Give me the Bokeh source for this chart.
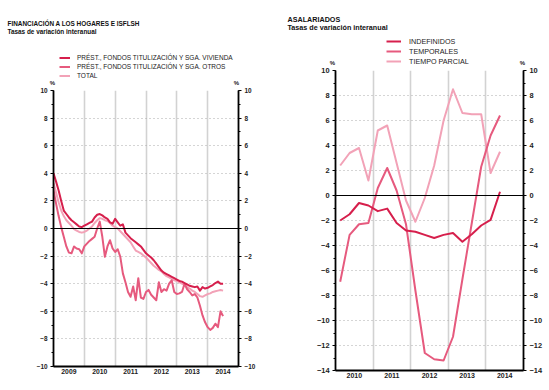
from bokeh.plotting import figure
from bokeh.layouts import row, column
from bokeh.models import Range1d, FixedTicker, LinearAxis, Span, Label, Legend, LegendItem
from bokeh.embed import file_html
from bokeh.resources import INLINE

FONT = "Liberation Sans"
DARK = "#d61f4c"
MID = "#e65a7e"
LIGHT = "#f2a2b7"
NAN = float("nan")

# ---------------- left chart data (monthly, Jan 2009 .. Jul 2014) ----------------
fin_title = "FINANCIACIÓN A LOS HOGARES E ISFLSH"
fin_subtitle = "Tasas de variación interanual"
fin_years = ["2009", "2010", "2011", "2012", "2013", "2014"]
fin_months = [f"{2009 + i // 12}-{i % 12 + 1:02d}" for i in range(67)]
fin_names = ["PRÉST., FONDOS TITULIZACIÓN Y SGA. VIVIENDA",
             "PRÉST., FONDOS TITULIZACIÓN Y SGA. OTROS",
             "TOTAL"]
fin_vivienda = [4.0, 3.4, 2.75, 2.0, 1.3, 1.05, 0.8, 0.6, 0.45, 0.3, 0.15, 0.1,
                0.2, 0.3, 0.4, 0.5, 0.8, 1.0, 1.05, 0.95, 0.8, 0.7, 0.45, 0.35,
                0.7, 0.45, 0.2, 0.3, -0.3, -0.5, -0.7, -0.85, -1.0, -1.15, -1.3, -1.55,
                -1.8, -1.95, -2.1, -2.3, -2.55, -2.8, -3.05, -3.2, -3.3, -3.4, -3.5, -3.6,
                -3.7, -3.8, -3.85, -3.95, -4.05, -4.15, -4.2, -4.25, -4.2, -4.5, -4.25, -4.35,
                -4.3, -4.2, -4.1, -3.95, -3.85, -4.0, -4.0]
fin_otros = [2.75, 1.8, 0.9, 0.1, -0.6, -1.3, -1.75, -1.8, -1.3, -1.45, -1.5, -1.8,
             -1.3, -1.1, -0.9, -0.75, -0.6, 0.0, 0.5, -0.6, -2.05, -1.3, -0.85, -1.45,
             -1.7, -1.5, -2.05, -3.25, -3.9, -4.6, -4.95, -4.2, -5.2, -3.6, -5.0, -5.1,
             -4.6, -4.45, -4.8, -5.0, -5.2, -3.9, -4.6, -4.4, -4.5, -4.0, -3.75, -4.6,
             -4.75, -4.7, -4.6, -4.0, -4.4, -4.6, -4.85, -4.75, -5.0, -5.6, -6.3, -6.8,
             -7.15, -7.35, -7.2, -6.9, -7.15, -6.0, -6.35]
fin_total = [3.3, 2.6, 1.9, 1.3, 0.9, 0.6, 0.4, 0.2, -0.05, -0.15, -0.25, -0.3,
             -0.25, -0.15, 0.0, 0.15, 0.4, 0.6, 0.75, 0.7, 0.6, 0.55, 0.4, 0.2,
             0.1, 0.0, -0.2, -0.4, -0.6, -0.8, -1.0, -1.3, -1.6, -1.7, -1.8, -1.95,
             -2.1, -2.3, -2.5, -2.7, -2.85, -3.0, -3.1, -3.3, -3.45, -3.55, -3.65, -3.75,
             -3.8, -3.9, -4.0, -4.1, -4.25, -4.35, -4.5, -4.6, -4.75, -4.9, -4.95, -4.85,
             -4.75, -4.7, -4.6, -4.55, -4.5, -4.45, -4.5]
fin_yticks = [10, 8, 6, 4, 2, 0, -2, -4, -6, -8, -10]

# ---------------- right chart data (quarterly, 2010 I .. 2014 II) ----------------
asal_title = "ASALARIADOS"
asal_subtitle = "Tasas de variación interanual"
asal_years = ["2010", "2011", "2012", "2013", "2014"]
asal_quarters = [f"{2010 + i // 4}-{i % 4 + 1}" for i in range(18)]
asal_names = ["INDEFINIDOS", "TEMPORALES", "TIEMPO PARCIAL"]
asal_indef = [-2.0, -1.5, -0.6, -0.8, -1.25, -1.05, -2.2, -2.8, -2.9, -3.15, -3.4, -3.15,
              -3.0, -3.7, -3.1, -2.4, -1.95, 0.3]
asal_temp = [-6.9, -3.15, -2.3, -2.2, 0.6, 2.2, 0.4, -2.3, -7.6, -12.6, -13.1, -13.2,
             -11.3, -6.7, -2.2, 2.3, 4.8, 6.4]
asal_parcial = [2.4, 3.4, 3.8, 1.2, 5.2, 5.6, 2.6, -0.4, -2.1, -0.2, 2.4, 6.0,
                8.5, 6.6, 6.5, 6.5, 1.8, 3.5]
asal_yticks = [10, 8, 6, 4, 2, 0, -2, -4, -6, -8, -10, -12, -14]


def month_pos(s):
    y, m = s.split("-")
    return int(y) + (int(m) - 1) / 12


def quarter_pos(s):
    y, q = s.split("-")
    return int(y) + (int(q) - 0.5) / 4


def no_align(p):
    try:
        p.frame_align = False
    except Exception:
        pass


def make_fig(width, height, left, right, top, bottom, years, ymin, ymax, yticks, ylab_px, xlab_px):
    x0 = int(years[0])
    x1 = int(years[-1]) + 1
    p = figure(width=width, height=height, x_range=Range1d(x0, x1), y_range=Range1d(ymin, ymax),
               output_backend="svg", toolbar_location=None,
               min_border_left=left, min_border_right=right,
               min_border_top=top, min_border_bottom=bottom)
    no_align(p)
    p.outline_line_color = None
    p.background_fill_color = "white"
    p.border_fill_color = "white"
    p.add_layout(LinearAxis(), "right")
    minor = [v for v in range(ymin, ymax + 1)]
    for ax in p.yaxis:
        ax.ticker = FixedTicker(ticks=yticks, minor_ticks=minor)
        ax.axis_line_width = 1.8
        ax.axis_line_color = "black"
        ax.major_tick_out = 3
        ax.major_tick_in = 0
        ax.minor_tick_out = 2
        ax.minor_tick_in = 0
        ax.major_tick_line_color = "black"
        ax.minor_tick_line_color = "black"
        ax.major_label_text_font = FONT
        ax.major_label_text_font_size = ylab_px
        ax.major_label_text_font_style = "bold"
        ax.major_label_text_color = "#222222"
        ax.major_label_standoff = 3
    xa = p.xaxis[0]
    mids = [int(y) + 0.5 for y in years]
    xa.ticker = FixedTicker(ticks=mids)
    xa.major_label_overrides = {m: y for m, y in zip(mids, years)}
    xa.major_tick_line_color = None
    xa.minor_tick_line_color = None
    xa.major_tick_out = 0
    xa.major_tick_in = 0
    xa.minor_tick_out = 0
    xa.minor_tick_in = 0
    xa.axis_line_width = 1.8
    xa.axis_line_color = "black"
    xa.major_label_text_font = FONT
    xa.major_label_text_font_size = xlab_px
    xa.major_label_text_font_style = "bold"
    xa.major_label_text_color = "#222222"
    xa.major_label_standoff = 2
    p.xgrid.ticker = FixedTicker(ticks=[int(y) for y in years[1:]])
    p.xgrid.grid_line_color = "#d2d2d2"
    p.xgrid.grid_line_width = 1.6
    p.ygrid.ticker = FixedTicker(ticks=[t for t in yticks if t != 0])
    p.ygrid.grid_line_color = "#aaaaaa"
    p.ygrid.grid_line_dash = "1 3"
    p.ygrid.grid_line_width = 1
    p.add_layout(Span(location=0, dimension="width", line_color="black", line_width=1))
    return p


def make_header(width, height, title, subtitle, tx, ty, size, line_gap, pct_x, names, colors,
                leg_loc, leg_font, leg_row, glyph_w, standoff):
    h = figure(width=width, height=height, x_range=Range1d(0, width), y_range=Range1d(height, 0),
               output_backend="svg", toolbar_location=None, x_axis_type=None, y_axis_type=None,
               min_border=0, min_border_left=0, min_border_right=0,
               min_border_top=0, min_border_bottom=0)
    no_align(h)
    h.outline_line_color = None
    h.grid.visible = False
    h.add_layout(Label(x=tx, y=ty, text=title, text_font=FONT, text_font_size=size,
                       text_font_style="bold", text_baseline="top", text_color="#111111"))
    h.add_layout(Label(x=tx, y=ty + line_gap, text=subtitle, text_font=FONT, text_font_size=size,
                       text_font_style="bold", text_baseline="top", text_color="#111111"))
    for px in pct_x:
        h.add_layout(Label(x=px, y=height - 0.5, text="%", text_font=FONT, text_font_size="6px",
                           text_font_style="bold", text_align="center", text_baseline="bottom",
                           text_color="#222222"))
    items = []
    for name, col in zip(names, colors):
        r = h.line(x=[NAN, NAN], y=[NAN, NAN], line_color=col, line_width=2)
        items.append(LegendItem(label=name, renderers=[r]))
    leg = Legend(items=items, location=leg_loc, orientation="vertical",
                 glyph_width=glyph_w, glyph_height=leg_row, label_height=leg_row,
                 label_standoff=standoff, spacing=0, padding=0, margin=0,
                 label_text_font=FONT, label_text_font_size=leg_font,
                 label_text_color="#222222", background_fill_alpha=0, border_line_color=None)
    h.add_layout(leg)
    return h


# ---------------- left ----------------
h1 = make_header(275, 86, fin_title, fin_subtitle, 7, 19.5, "6.4px", 8, [52, 236], fin_names,
                 [DARK, MID, LIGHT], (59, 6), "6.5px", 9, 11, 7)
p1 = make_fig(275, 304, 53, 37, 4, 24, fin_years, -10, 10, fin_yticks, "6.4px", "6.8px")
fx = [month_pos(s) for s in fin_months]
p1.line(fx, fin_total, line_color=LIGHT, line_width=2, line_join="round")
p1.line(fx, fin_otros, line_color=MID, line_width=2, line_join="round")
p1.line(fx, fin_vivienda, line_color=DARK, line_width=2, line_join="round")

# ---------------- right ----------------
h2 = make_header(274, 66, asal_title, asal_subtitle, 12, 14, "7.2px", 8, [57, 247], asal_names,
                 [DARK, MID, LIGHT], (111, 0), "7.2px", 10, 15, 8)
p2 = make_fig(274, 324, 60, 26, 4, 20, asal_years, -14, 10, asal_yticks, "7.4px", "7px")
qx = [quarter_pos(s) for s in asal_quarters]
p2.line(qx, asal_parcial, line_color=LIGHT, line_width=2, line_join="round")
p2.line(qx, asal_temp, line_color=MID, line_width=2, line_join="round")
p2.line(qx, asal_indef, line_color=DARK, line_width=2, line_join="round")

layout = row(column(h1, p1, spacing=0), column(h2, p2, spacing=0), spacing=0)
open("out.html", "w").write(file_html(layout, INLINE))
